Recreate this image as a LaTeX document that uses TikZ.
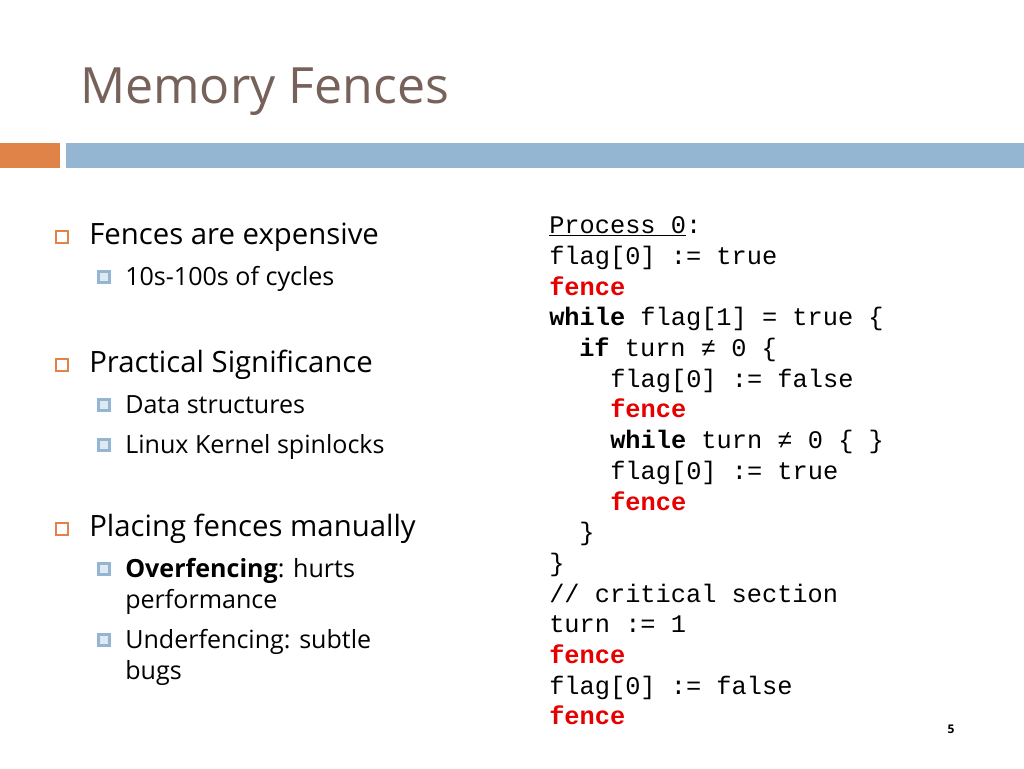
\documentclass[tikz,border=0pt]{standalone}
\usepackage{fontspec}
\setmainfont{Open Sans}
\newfontfamily\codefont{Liberation Mono}
\usetikzlibrary{positioning}
\definecolor{titlebrown}{RGB}{118,98,90}
\definecolor{barorange}{RGB}{224,131,72}
\definecolor{barblue}{RGB}{148,182,210}
\definecolor{fencered}{RGB}{230,0,0}
\begin{document}
\begin{tikzpicture}[x=0.75pt,y=-0.75pt,
		main text/.style={anchor=base west,inner sep=0pt,font=\fontsize{22}{24}\selectfont},
		sub text/.style={anchor=base west,inner sep=0pt,font=\fontsize{18.8}{22}\selectfont},
		code line/.style={anchor=base west,inner sep=0pt,font=\codefont\fontsize{19}{20}\selectfont},
		bullet box/.style={draw=barorange,fill=white,line width=0.8pt,minimum size=9pt,inner sep=0pt},
		sub box/.style={draw=barblue,fill=barblue!30,line width=2.2pt,minimum size=8pt,inner sep=0pt}]
		\newcommand{\kw}[1]{\textbf{#1}}
		\newcommand{\fence}{\textcolor{fencered}{\textbf{fence}}}
		%% Background
		\useasboundingbox (0,0) rectangle (1024,768);
		\fill[white] (0,0) rectangle (1024,768);
		\node (title) at (80,103) [anchor=base west,inner sep=0pt,text=titlebrown,font=\fontsize{37.5}{40}\selectfont] {Memory Fences};
		\fill[barorange] (0,143) rectangle (60,168);
		\fill[barblue] (66,143) rectangle (1024,168);

		% Left bullets
		\begin{scope}
			\node (b1) at (62,237) [bullet box] {};
			\node (t1) at (89,244) [main text] {Fences are expensive};
			\node (s1) at (104,277) [sub box] {};
			\node (u1) at (125,285) [sub text] {10s-100s of cycles};
			\node (b2) at (62,365) [bullet box] {};
			\node (t2) at (89,372) [main text] {Practical Significance};
			\node (s2) at (104,405) [sub box] {};
			\node (u2) at (125,413) [sub text] {Data structures};
			\node (s3) at (104,445) [sub box] {};
			\node (u3) at (125,453) [sub text] {Linux Kernel spinlocks};
			\node (b3) at (62,529) [bullet box] {};
			\node (t3) at (89,536) [main text] {Placing fences manually};
			\node (s4) at (104,569) [sub box] {};
			\node (u4) at (125,577) [sub text] {\textbf{Overfencing}: hurts};
			\node (u4b) at (125,608) [sub text] {performance};
			\node (s5) at (104,640) [sub box] {};
			\node (u5) at (125,648) [sub text] {Underfencing: subtle};
			\node (u5b) at (125,679) [sub text] {bugs};
		\end{scope}

		% Code
		\begin{scope}
			\node (c1) at (549,233) [code line] {\underline{Process 0}:};
			\node (c2) at (549,264) [code line] {flag[0] := true};
			\node (c3) at (549,295) [code line] {\fence};
			\node (c4) at (549,325) [code line] {\kw{while} flag[1] = true \{};
			\node (c5) at (579,356) [code line] {\kw{if} turn ≠ 0 \{};
			\node (c6) at (610,387) [code line] {flag[0] := false};
			\node (c7) at (610,417) [code line] {\fence};
			\node (c8) at (610,448) [code line] {\kw{while} turn ≠ 0 \{ \}};
			\node (c9) at (610,479) [code line] {flag[0] := true};
			\node (c10) at (610,510) [code line] {\fence};
			\node (c11) at (579,540) [code line] {\}};
			\node (c12) at (549,571) [code line] {\}};
			\node (c13) at (549,602) [code line] {// critical section};
			\node (c14) at (549,632) [code line] {turn := 1};
			\node (c15) at (549,663) [code line] {\fence};
			\node (c16) at (549,694) [code line] {flag[0] := false};
			\node (c17) at (549,724) [code line] {\fence};
		\end{scope}

		\node (page) at (951,733) [anchor=base,inner sep=0pt,font=\bfseries\fontsize{9}{10}\selectfont] {5};
	\end{tikzpicture}
\end{document}
